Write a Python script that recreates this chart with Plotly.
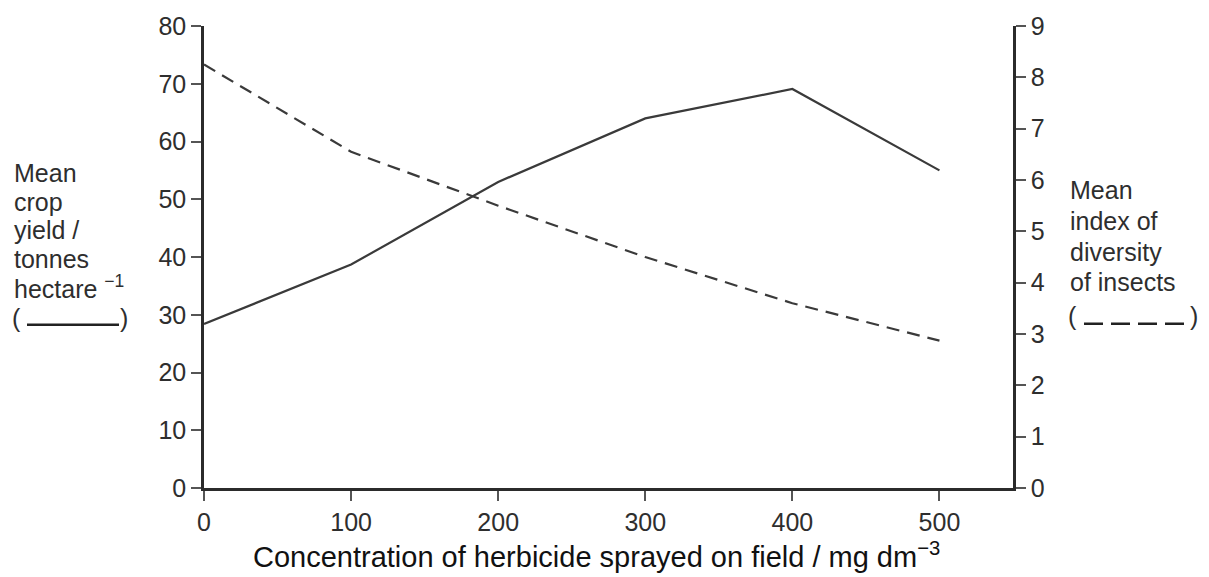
import plotly.graph_objects as go

# ---- data ----
concentration = [0, 100, 200, 300, 400, 500]
crop_yield = [28.4, 38.7, 53.0, 64.0, 69.1, 55.0]
insect_diversity = [8.25, 6.55, 5.5, 4.5, 3.6, 2.87]
x_ticks = [0, 100, 200, 300, 400, 500]
left_ticks = [0, 10, 20, 30, 40, 50, 60, 70, 80]
right_ticks = [0, 1, 2, 3, 4, 5, 6, 7, 8, 9]
left_label_lines = ["Mean", "crop", "yield /", "tonnes", "hectare <sup>−1</sup>"]
right_label_lines = ["Mean", "index of", "diversity", "of insects"]
x_title = "Concentration of herbicide sprayed on field / mg dm<sup>−3</sup>"

W, H = 1209, 577
ML, MR, MT, MB = 204, 196, 21, 89
PW, PH = W - ML - MR, H - MT - MB


def px(x):
    return (x - ML) / PW


def py(y):
    return (H - MB - y) / PH


FONT = "Liberation Sans, Arial, sans-serif"
TXT = "#2e2e2e"
LINE = "#3a3a3a"

fig = go.Figure()
fig.add_trace(go.Scatter(x=concentration, y=crop_yield, mode="lines",
                         line=dict(color=LINE, width=2.2), yaxis="y", showlegend=False))
fig.add_trace(go.Scatter(x=concentration, y=insect_diversity, mode="lines",
                         line=dict(color=LINE, width=2.2, dash="13px,8px"), yaxis="y2",
                         showlegend=False))

axis_common = dict(showgrid=False, zeroline=False, showline=True, linecolor="#2b2b2b",
                   linewidth=2.6, ticks="outside", ticklen=10, tickwidth=1.6,
                   tickcolor="#555555", tickfont=dict(family=FONT, size=25, color=TXT))

fig.update_layout(
    width=W, height=H,
    margin=dict(l=ML, r=MR, t=MT, b=MB),
    paper_bgcolor="white", plot_bgcolor="white",
    xaxis=dict(range=[0, 550], tickvals=x_ticks, **axis_common),
    yaxis=dict(range=[0, 80], tickvals=left_ticks, **axis_common),
    yaxis2=dict(range=[0, 9], tickvals=right_ticks, overlaying="y", side="right",
                **axis_common),
)

lab_font = dict(family=FONT, size=25, color=TXT)
ann = []
# left axis label, one annotation per line (line centres in pixels)
for i, t in enumerate(left_label_lines):
    ann.append(dict(xref="paper", yref="paper", x=px(12), y=py(170 + 28.7 * i),
                    xanchor="left", yanchor="middle", showarrow=False, font=lab_font,
                    text=t))
ann.append(dict(xref="paper", yref="paper", x=px(10), y=py(316), xanchor="left",
                yanchor="middle", showarrow=False, font=lab_font, text="("))
ann.append(dict(xref="paper", yref="paper", x=px(130), y=py(316), xanchor="right",
                yanchor="middle", showarrow=False, font=lab_font, text=")"))
# right axis label
for i, t in enumerate(right_label_lines):
    ann.append(dict(xref="paper", yref="paper", x=px(1068), y=py(187 + 31 * i),
                    xanchor="left", yanchor="middle", showarrow=False, font=lab_font,
                    text=t))
ann.append(dict(xref="paper", yref="paper", x=px(1066), y=py(314), xanchor="left",
                yanchor="middle", showarrow=False, font=lab_font, text="("))
ann.append(dict(xref="paper", yref="paper", x=px(1200), y=py(314), xanchor="right",
                yanchor="middle", showarrow=False, font=lab_font, text=")"))
# x-axis title
ann.append(dict(xref="paper", yref="paper", x=px(596), y=py(556), xanchor="center",
                yanchor="middle", showarrow=False,
                font=dict(family=FONT, size=29, color="#111111"), text=x_title))
fig.update_layout(annotations=ann)

# legend samples inside the brackets
fig.add_shape(type="line", xref="paper", yref="paper", x0=px(27), x1=px(119),
              y0=py(323), y1=py(323), line=dict(color="#222222", width=2.6))
fig.add_shape(type="line", xref="paper", yref="paper", x0=px(1084), x1=px(1186),
              y0=py(322), y1=py(322), line=dict(color="#222222", width=2.6,
                                                 dash="19px,8px"))

fig.write_html("out.html")
